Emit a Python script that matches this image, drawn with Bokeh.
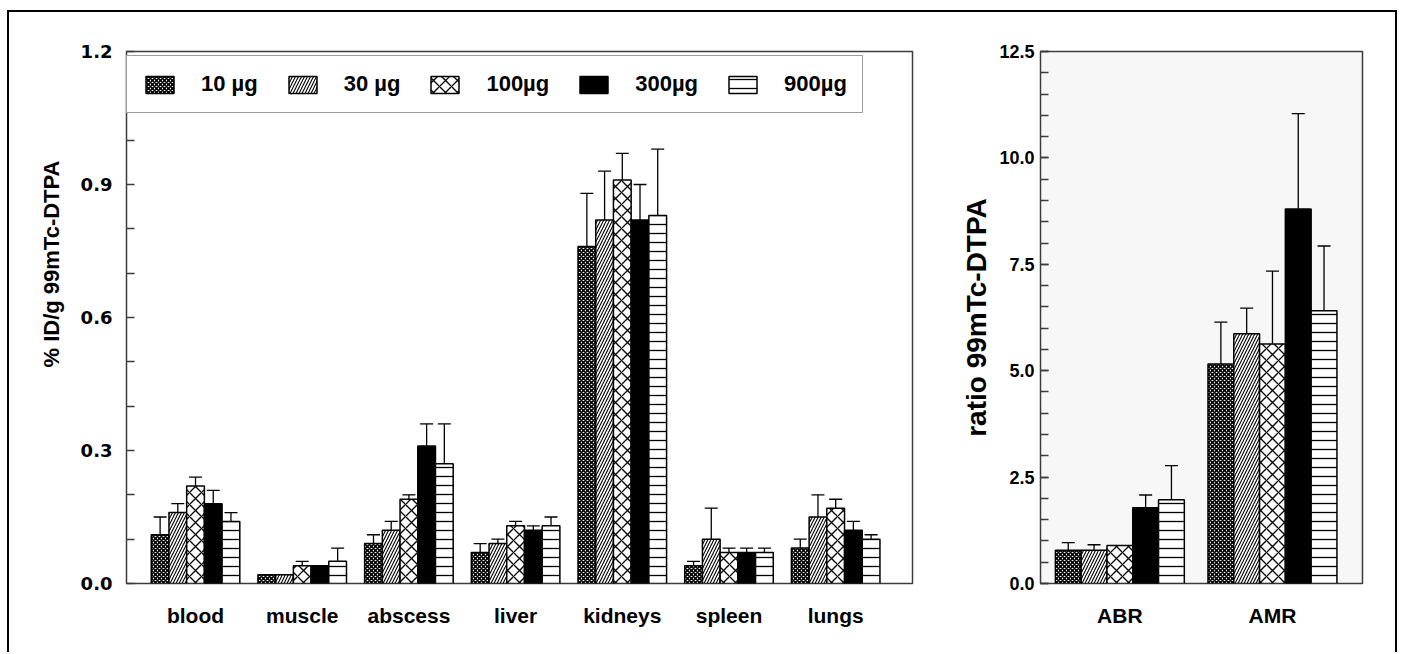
from bokeh.plotting import figure
from bokeh.models import (Range1d, FixedTicker, NumeralTickFormatter, ColumnDataSource,
                          Whisker, TeeHead, Legend, LegendItem, Title)
from bokeh.layouts import row
from bokeh.embed import file_html
from bokeh.resources import INLINE

# ---------------- data ----------------
organs = ["blood", "muscle", "abscess", "liver", "kidneys", "spleen", "lungs"]
doses = ["10 µg", "30 µg", "100µg", "300µg", "900µg"]

uptake_10 = [0.11, 0.02, 0.09, 0.07, 0.76, 0.04, 0.08]
uptake_30 = [0.16, 0.02, 0.12, 0.09, 0.82, 0.10, 0.15]
uptake_100 = [0.22, 0.04, 0.19, 0.13, 0.91, 0.07, 0.17]
uptake_300 = [0.18, 0.04, 0.31, 0.12, 0.82, 0.07, 0.12]
uptake_900 = [0.14, 0.05, 0.27, 0.13, 0.83, 0.07, 0.10]

sd_10 = [0.04, 0.0, 0.02, 0.02, 0.12, 0.01, 0.02]
sd_30 = [0.02, 0.0, 0.02, 0.01, 0.11, 0.07, 0.05]
sd_100 = [0.02, 0.01, 0.01, 0.01, 0.06, 0.01, 0.02]
sd_300 = [0.03, 0.0, 0.05, 0.01, 0.08, 0.01, 0.02]
sd_900 = [0.02, 0.03, 0.09, 0.02, 0.15, 0.01, 0.01]

ratios = ["ABR", "AMR"]
ratio_10 = [0.78, 5.16]
ratio_30 = [0.78, 5.87]
ratio_100 = [0.89, 5.63]
ratio_300 = [1.78, 8.80]
ratio_900 = [1.97, 6.41]

rsd_10 = [0.18, 0.98]
rsd_30 = [0.13, 0.60]
rsd_100 = [0.0, 1.71]
rsd_300 = [0.30, 2.24]
rsd_900 = [0.80, 1.52]

left_ticks = [0.0, 0.3, 0.6, 0.9, 1.2]
left_minor = [0.1, 0.2, 0.4, 0.5, 0.7, 0.8, 1.0, 1.1]
right_ticks = [0.0, 2.5, 5.0, 7.5, 10.0, 12.5]
right_minor = [i * 0.5 for i in range(26)]

# ---------------- styles ----------------
FONT = "Liberation Sans"
styles = [
    dict(fill_color="white", hatch_pattern="x", hatch_scale=4, hatch_weight=1.6),
    dict(fill_color="white", hatch_pattern="/", hatch_scale=6, hatch_weight=1.1),
    dict(fill_color="white", hatch_pattern="x", hatch_scale=12, hatch_weight=1.3),
    dict(fill_color="black"),
    dict(fill_color="white", hatch_pattern="-", hatch_scale=9, hatch_weight=1.3),
]
OUT = "#3c3c3c"

def style_fig(p):
    p.outline_line_color = OUT
    p.outline_line_width = 1.5
    p.xgrid.visible = False
    p.ygrid.visible = False
    for ax in p.xaxis:
        ax.axis_line_color = None
        ax.major_tick_in = 0
        ax.major_tick_out = 0
        ax.minor_tick_in = 0
        ax.minor_tick_out = 0
        ax.major_label_text_font = FONT
        ax.major_label_text_font_style = "bold"
        ax.major_label_text_font_size = "21px"
        ax.major_label_text_color = "black"
        ax.major_label_standoff = 20
    for ax in p.yaxis:
        ax.axis_line_color = None
        ax.major_tick_in = 8
        ax.major_tick_out = 0
        ax.minor_tick_in = 8
        ax.minor_tick_out = 0
        ax.major_tick_line_color = OUT
        ax.minor_tick_line_color = OUT
        ax.major_tick_line_width = 1.3
        ax.minor_tick_line_width = 1.3
        ax.major_label_text_font = FONT
        ax.major_label_text_font_style = "bold"
        ax.major_label_text_color = "black"
        ax.axis_label_text_font = FONT
        ax.axis_label_text_font_style = "bold"
        ax.axis_label_text_color = "black"
        ax.formatter = NumeralTickFormatter(format="0.0")


def draw_group(p, cats, series, sds, width):
    renderers = []
    n = len(series)
    for j, (vals, sd) in enumerate(zip(series, sds)):
        xs = [i + (j - (n - 1) / 2) * width for i in range(len(cats))]
        src = ColumnDataSource(dict(x=xs, top=vals))
        r = p.vbar(x="x", top="top", bottom=0, width=width, source=src,
                   line_color="black", line_width=1.5, hatch_color="black", **styles[j])
        renderers.append(r)
        wx = [x for x, s in zip(xs, sd) if s > 0]
        wl = [v for v, s in zip(vals, sd) if s > 0]
        wu = [v + s for v, s in zip(vals, sd) if s > 0]
        wsrc = ColumnDataSource(dict(x=wx, lower=wl, upper=wu))
        w = Whisker(source=wsrc, base="x", lower="lower", upper="upper", dimension="height",
                    line_color="black", line_width=1.3, lower_head=None,
                    upper_head=TeeHead(size=13, line_color="black", line_width=1.3))
        p.add_layout(w)
    return renderers

# ---------------- left panel ----------------
p1 = figure(width=921, height=640, output_backend="svg", toolbar_location=None,
            x_range=Range1d(-0.647, 6.72), y_range=Range1d(0, 1.2),
            min_border_left=117, min_border_right=18, min_border_top=35, min_border_bottom=69)
style_fig(p1)
p1.xaxis.ticker = FixedTicker(ticks=list(range(len(organs))))
p1.xaxis.major_label_overrides = {i: c for i, c in enumerate(organs)}
p1.yaxis.ticker = FixedTicker(ticks=left_ticks, minor_ticks=left_minor)
p1.yaxis.major_label_text_font = "DejaVu Sans"
p1.yaxis.major_label_text_font_size = "18px"
p1.yaxis.major_label_standoff = 14
p1.add_layout(Title(text="% ID/g 99mTc-DTPA", align="left", offset=216, standoff=28,
                    text_font=FONT, text_font_style="bold", text_font_size="22px",
                    text_color="black"), "left")

rs = draw_group(p1, organs,
                [uptake_10, uptake_30, uptake_100, uptake_300, uptake_900],
                [sd_10, sd_30, sd_100, sd_300, sd_900], 0.166)

legend = Legend(items=[LegendItem(label=d, renderers=[r]) for d, r in zip(doses, rs)],
                orientation="horizontal", location=(0, 470), margin=0,
                padding=15, spacing=27, label_standoff=24,
                glyph_width=35, glyph_height=21, label_height=21,
                label_text_font=FONT, label_text_font_style="bold",
                label_text_font_size="22px", label_text_color="black",
                border_line_color=OUT, border_line_width=1.5,
                background_fill_color="white", background_fill_alpha=1.0)
p1.add_layout(legend)

# ---------------- right panel ----------------
p2 = figure(width=465, height=640, output_backend="svg", toolbar_location=None,
            x_range=Range1d(-0.52, 1.59), y_range=Range1d(0, 12.5),
            min_border_left=110, min_border_right=33, min_border_top=39, min_border_bottom=69)
style_fig(p2)
p2.background_fill_color = "#f7f7f7"
p2.xaxis.ticker = FixedTicker(ticks=list(range(len(ratios))))
p2.xaxis.major_label_overrides = {i: c for i, c in enumerate(ratios)}
p2.yaxis.ticker = FixedTicker(ticks=right_ticks, minor_ticks=right_minor)
p2.yaxis.major_label_text_font_size = "18px"
p2.yaxis.major_label_standoff = 6
p2.yaxis.axis_label = "ratio 99mTc-DTPA"
p2.yaxis.axis_label_text_font_size = "28px"
p2.yaxis.axis_label_standoff = 4

draw_group(p2, ratios,
           [ratio_10, ratio_30, ratio_100, ratio_300, ratio_900],
           [rsd_10, rsd_30, rsd_100, rsd_300, rsd_900], 0.169)

layout = row(p1, p2, spacing=0, margin=(10, 0, 0, 7),
             styles={"border-top": "2px solid black", "border-left": "2px solid black",
                     "border-right": "2px solid black"})

open("out.html", "w").write(file_html(layout, INLINE))
